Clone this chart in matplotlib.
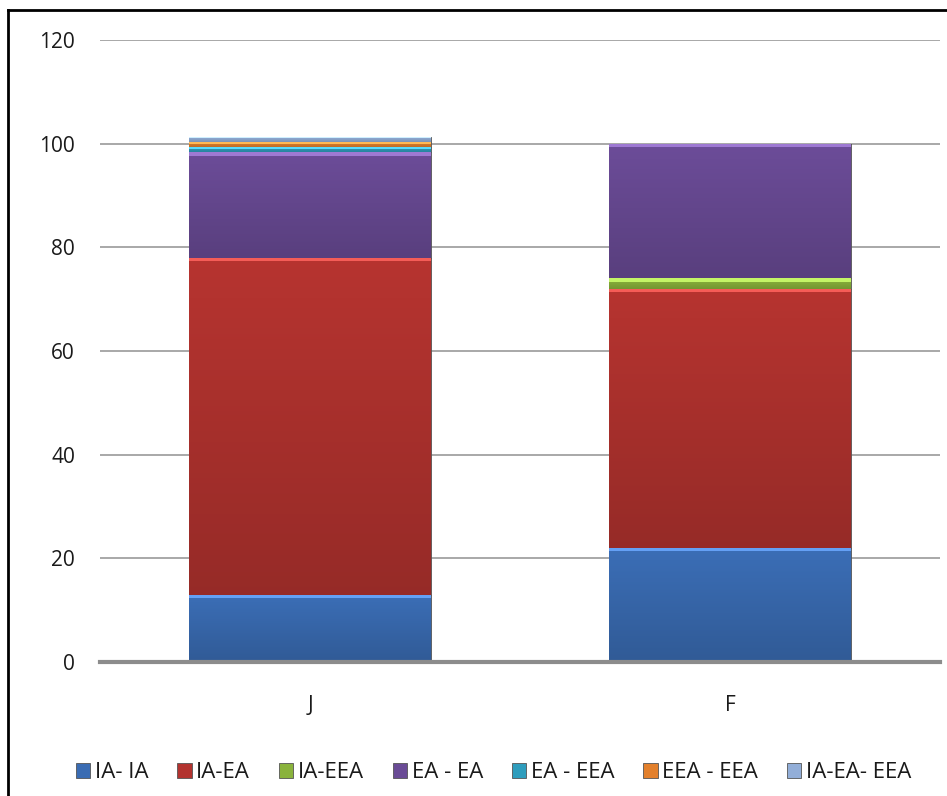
import numpy as np
import matplotlib.pyplot as plt
from matplotlib.lines import Line2D
from matplotlib.patches import Rectangle
from matplotlib.colors import to_rgb

plt.rcParams['font.family'] = ['Open Sans', 'DejaVu Sans']

categories = ['J', 'F']
series_names = ['IA- IA', 'IA-EA', 'IA-EEA', 'EA - EA', 'EA - EEA', 'EEA - EEA', 'IA-EA- EEA']
values = {
    'IA- IA':     [13, 22],
    'IA-EA':      [65, 50],
    'IA-EEA':     [0, 2],
    'EA - EA':    [20.3, 26],
    'EA - EEA':   [1, 0],
    'EEA - EEA':  [1, 0],
    'IA-EA- EEA': [1, 0],
}
colors = ['#3a6cb3', '#b3332f', '#8ab33c', '#6a4b96', '#2e9dbd', '#e3802c', '#92aed8']
yticks = [0, 20, 40, 60, 80, 100, 120]

fig = plt.figure(figsize=(9.47, 7.96), dpi=100)
ax = fig.add_axes([100 / 947, 1 - 662 / 796, 840 / 947, 622 / 796])

x = np.arange(len(categories))
bottom = np.zeros(len(categories))
handles = []
for name, c in zip(series_names, colors):
    v = np.array(values[name], dtype=float)
    bars = ax.bar(x, v, 0.575, bottom=bottom, color=c, edgecolor='#555555',
                  linewidth=0.6, zorder=3, label=name)
    # soft vertical shading inside each segment
    rgb = np.array(to_rgb(c))
    for p in bars:
        if p.get_height() <= 0:
            continue
        x0, y0 = p.get_x(), p.get_y()
        w, h = p.get_width(), p.get_height()
        t = np.linspace(0, 1, 64)[:, None]
        shade = 0.84 + 0.18 * t  # darker at bottom
        img = np.clip(rgb[None, None, :] * shade[:, :, None], 0, 1)
        im = ax.imshow(img, extent=[x0, x0 + w, y0, y0 + h], origin='lower',
                       aspect='auto', zorder=3.5, interpolation='bilinear')
        im.set_clip_path(p)
        # light band along the top edge
        hb = min(0.6, 0.3 * h)
        ax.add_patch(Rectangle((x0, y0 + h - hb), w, hb, lw=0,
                               color=np.clip(rgb * 1.2 + 0.12, 0, 1), zorder=3.6))
    bottom += v
    handles.append(bars)

ax.set_xlim(-0.5, 1.5)
ax.set_ylim(0, 120)
ax.set_yticks(yticks)
ax.set_xticks(x)
ax.set_xticklabels(categories)
ax.grid(axis='y', color='#9a9a9a', linewidth=1.2, zorder=0)
for s in ['top', 'right', 'left']:
    ax.spines[s].set_visible(False)
ax.spines['bottom'].set_color('#8c8c8c')
ax.spines['bottom'].set_linewidth(3)
ax.spines['bottom'].set_zorder(4)
ax.tick_params(axis='both', length=0, labelsize=15, colors='#1a1a1a')
ax.tick_params(axis='y', pad=18)
ax.tick_params(axis='x', pad=24)

ax.legend(handles=handles, loc='center', bbox_to_anchor=(0.521, (796 - 773) / 796),
          bbox_transform=fig.transFigure, ncol=7, frameon=False, fontsize=16,
          handlelength=0.65, handleheight=0.65, handletextpad=0.2, columnspacing=1.3,
          labelcolor='#1a1a1a')

# outer frame (left and top edges visible)
fig.add_artist(Line2D([8 / 947, 8 / 947], [0, 1 - 10 / 796], color='black', lw=2,
                      transform=fig.transFigure))
fig.add_artist(Line2D([8 / 947, 1], [1 - 10 / 796, 1 - 10 / 796], color='black', lw=2,
                      transform=fig.transFigure))

fig.savefig('out.png', dpi=100)
